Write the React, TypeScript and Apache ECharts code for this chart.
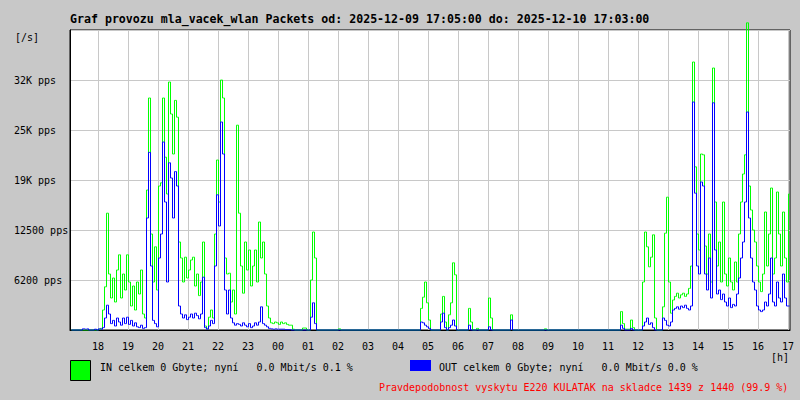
import React, { useEffect, useRef } from 'react';
import * as echarts from 'echarts';

const TITLE = 'Graf provozu mla_vacek_wlan Packets od: 2025-12-09 17:05:00 do: 2025-12-10 17:03:00';
const HOUR_LABELS = ['18', '19', '20', '21', '22', '23', '00', '01', '02', '03', '04', '05', '06', '07', '08', '09', '10', '11', '12', '13', '14', '15', '16', '17'];
const FIRST_HOUR_MIN = 56; // minutes from 17:04 (left edge) to 18:00
const TOTAL_MIN = 1440;
const STEP_MIN = 4; // one sample every 4 minutes
const Y_MAX = 37500;
const Y_STEP = 6250;
const Y_LABELS = ['', '6200 pps', '12500 pps', '19K pps', '25K pps', '32K pps', ''];
const IN_LEGEND = 'IN celkem 0 Gbyte; nyní   0.0 Mbit/s 0.1 %';
const OUT_LEGEND = 'OUT celkem 0 Gbyte; nyní   0.0 Mbit/s 0.0 %';
const NOTE = 'Pravdepodobnost vyskytu E220 KULATAK na skladce 1439 z 1440 (99.9 %)';

// IN packets per second, 4-minute samples from 17:04
const IN_VALUES = [
  0, 0, 0, 0, 0, 0, 0, 0, 0, 0,
  0, 0, 0, 0, 100, 200, 2500, 5400, 14600, 7000,
  4000, 6500, 3500, 7500, 9400, 4000, 7000, 5000, 9400, 6000,
  3000, 5500, 2500, 6000, 4500, 7500, 2000, 1500, 17500, 29000,
  12000, 6000, 10400, 5000, 18000, 18400, 29000, 21600, 17000, 31000,
  27000, 22000, 28700, 26600, 11000, 9000, 6000, 9100, 6500, 7500,
  8750, 9100, 5500, 7000, 4300, 6000, 11000, 500, 200, 1600,
  2500, 1500, 12000, 21250, 16000, 31250, 29000, 9000, 7000, 7100,
  3500, 5000, 2000, 25600, 14600, 8000, 4600, 11000, 7500, 10000,
  5500, 8000, 10000, 6000, 13500, 9000, 11000, 7000, 3000, 1500,
  900, 800, 1000, 900, 700, 1000, 800, 900, 700, 600,
  600, 100, 0, 0, 0, 0, 250, 250, 0, 0,
  6250, 12250, 9000, 0, 0, 0, 0, 0, 0, 0,
  0, 0, 0, 0, 150, 0, 0, 0, 0, 0,
  0, 0, 0, 0, 0, 0, 0, 0, 0, 0,
  0, 0, 0, 0, 0, 0, 0, 0, 0, 0,
  0, 0, 0, 0, 0, 0, 0, 0, 0, 0,
  0, 0, 0, 0, 0, 2700, 4100, 6000, 3400, 1250,
  0, 0, 0, 0, 0, 2000, 4200, 1000, 0, 1900,
  3400, 8400, 6900, 0, 0, 0, 0, 0, 0, 2700,
  1000, 0, 0, 200, 0, 0, 0, 0, 0, 4000,
  1500, 0, 0, 0, 0, 0, 0, 0, 0, 0,
  1900, 0, 0, 0, 0, 0, 0, 0, 0, 0,
  0, 0, 0, 0, 0, 0, 0, 150, 0, 0,
  0, 0, 0, 0, 0, 0, 0, 0, 0, 0,
  0, 0, 0, 0, 0, 0, 0, 0, 0, 0,
  0, 0, 0, 0, 0, 0, 0, 0, 0, 0,
  0, 0, 0, 0, 0, 2300, 800, 100, 100, 100,
  1250, 300, 0, 0, 0, 0, 6000, 12250, 10400, 7900,
  9100, 11900, 1500, 0, 0, 0, 2900, 12100, 16600, 6000,
  2100, 3750, 4200, 4600, 4000, 4400, 4600, 4200, 4500, 5200,
  8000, 33500, 20400, 12000, 10000, 22000, 21900, 10500, 7000, 12000,
  6000, 32750, 16000, 8000, 11000, 6000, 16000, 7000, 5500, 9000,
  6000, 5000, 8500, 6000, 12000, 16000, 19500, 21900, 38400, 18000,
  15000, 12500, 11000, 8000, 6000, 4800, 7000, 14750, 8000, 12000,
  17750, 7000, 9000, 17250, 12000, 8000, 14750, 9000, 6000, 17000,
];

// OUT packets per second, 4-minute samples from 17:04
const OUT_VALUES = [
  0, 0, 0, 0, 0, 0, 150, 100, 150, 0,
  0, 0, 100, 0, 150, 100, 300, 1500, 3100, 2000,
  800, 1200, 500, 1500, 1000, 600, 1500, 800, 1600, 700,
  1200, 500, 900, 400, 300, 600, 200, 300, 14000, 22200,
  8000, 1200, 800, 400, 9000, 12000, 23500, 16000, 6000, 20900,
  19000, 14000, 19800, 18000, 3000, 2000, 1500, 1900, 1300, 1600,
  2000, 1500, 2100, 1800, 1400, 2000, 6600, 300, 100, 500,
  1200, 800, 8000, 16900, 13000, 26000, 22000, 5000, 2000, 5000,
  1500, 900, 600, 800, 700, 500, 900, 600, 400, 800,
  300, 500, 900, 600, 1000, 2900, 800, 600, 400, 200,
  150, 100, 150, 100, 100, 100, 100, 50, 50, 50,
  0, 0, 0, 0, 0, 0, 0, 0, 0, 0,
  1600, 3400, 800, 0, 0, 0, 0, 0, 0, 0,
  0, 0, 0, 0, 0, 0, 0, 0, 0, 0,
  0, 0, 0, 0, 0, 0, 0, 0, 0, 0,
  0, 0, 0, 0, 0, 0, 0, 0, 0, 0,
  0, 0, 0, 0, 0, 0, 0, 0, 0, 0,
  0, 0, 0, 0, 0, 1000, 900, 600, 400, 200,
  0, 0, 0, 0, 0, 1000, 2100, 300, 0, 300,
  600, 1250, 500, 0, 0, 0, 0, 0, 0, 600,
  0, 0, 0, 0, 0, 0, 0, 0, 0, 400,
  0, 0, 0, 0, 0, 0, 0, 0, 0, 0,
  1250, 0, 0, 0, 0, 0, 0, 0, 0, 0,
  0, 0, 0, 0, 0, 0, 0, 0, 0, 0,
  0, 0, 0, 0, 0, 0, 0, 0, 0, 0,
  0, 0, 0, 0, 0, 0, 0, 0, 0, 0,
  0, 0, 0, 0, 0, 0, 0, 0, 0, 0,
  0, 0, 0, 0, 0, 600, 200, 0, 0, 0,
  200, 0, 0, 0, 0, 0, 500, 1000, 1500, 700,
  900, 300, 0, 0, 0, 0, 1500, 1200, 600, 500,
  1000, 2500, 2700, 2900, 2600, 3000, 2800, 3100, 2700, 2500,
  3000, 28500, 17100, 8000, 7000, 18500, 18000, 7000, 5000, 9000,
  4000, 28400, 10000, 4500, 5000, 3800, 4500, 3500, 3000, 4000,
  2800, 3200, 3000, 4500, 6500, 9000, 11000, 16000, 27250, 14000,
  9000, 6000, 5000, 3000, 2500, 2300, 2500, 3500, 3000, 4500,
  9000, 3500, 3000, 6000, 4000, 3500, 7000, 4000, 3000, 3000,
];

const MONO = '"DejaVu Sans Mono", "Liberation Mono", monospace';

export default function App() {
  const ref = useRef<HTMLDivElement>(null);

  useEffect(() => {
    if (!ref.current) return;
    const chart = echarts.init(ref.current, undefined, { renderer: 'svg' });

    const hourTicks = HOUR_LABELS.map((_, k) => FIRST_HOUR_MIN + 60 * k);
    const toPairs = (arr: number[]) => arr.map((v, i) => [i * STEP_MIN + 3, v]);
    const yTicks = Y_LABELS.map((_, k) => k * Y_STEP);

    const text = (t: string, x: number, y: number, fill = '#000', extra: any = {}) => ({
      type: 'text',
      x,
      y,
      silent: true,
      style: {
        text: t,
        fill,
        font: `10px ${MONO}`,
        verticalAlign: 'middle',
        align: 'left',
        ...extra,
      },
    });

    const lineSeries = (name: string, values: number[], color: string, z: number) => ({
      name,
      type: 'line',
      step: 'middle',
      data: toPairs(values),
      showSymbol: false,
      symbol: 'none',
      clip: false,
      lineStyle: { color, width: 1 },
      itemStyle: { color },
      silent: true,
      z,
    });

    const option: any = {
      animation: false,
      backgroundColor: '#c8c8c8',
      grid: {
        left: 70,
        top: 30,
        width: 720,
        height: 300,
        show: true,
        backgroundColor: '#ffffff',
        borderColor: '#000000',
        borderWidth: 1,
      },
      xAxis: {
        type: 'value',
        min: 0,
        max: TOTAL_MIN,
        axisLine: { show: true, onZero: false, lineStyle: { color: '#000', width: 1 } },
        axisTick: { show: false, customValues: hourTicks },
        axisLabel: {
          customValues: hourTicks,
          formatter: (v: number) => {
            const k = Math.round((v - FIRST_HOUR_MIN) / 60);
            return HOUR_LABELS[k] ?? '';
          },
          color: '#000',
          fontSize: 10,
          fontFamily: MONO,
          margin: 11,
        },
        splitLine: { show: true, lineStyle: { color: '#c8c8c8', width: 1 } },
      },
      yAxis: {
        type: 'value',
        min: 0,
        max: Y_MAX,
        interval: Y_STEP,
        axisLine: { show: true, lineStyle: { color: '#000', width: 1 } },
        axisTick: { show: false },
        axisLabel: {
          align: 'left',
          margin: 56,
          padding: [4, 0, 0, 0],
          formatter: (v: number) => {
            const k = yTicks.indexOf(v);
            return k >= 0 ? Y_LABELS[k] : '';
          },
          color: '#000',
          fontSize: 10,
          fontFamily: MONO,
        },
        splitLine: { show: true, lineStyle: { color: '#c8c8c8', width: 1 } },
      },
      series: [
        lineSeries('IN', IN_VALUES, '#00ff00', 2),
        lineSeries('OUT', OUT_VALUES, '#0000ff', 3),
      ],
      graphic: [
        text(TITLE, 70, 19, '#000', { font: `bold 11.6px ${MONO}` }),
        text('[/s]', 15, 37),
        text('[h]', 771, 357),
        {
          type: 'rect',
          silent: true,
          shape: { x: 70.5, y: 360.5, width: 20, height: 20 },
          style: { fill: '#00ff00', stroke: '#000', lineWidth: 1 },
        },
        text(IN_LEGEND, 100, 367),
        {
          type: 'rect',
          silent: true,
          shape: { x: 410, y: 360, width: 21, height: 11 },
          style: { fill: '#0000ff' },
        },
        text(OUT_LEGEND, 439, 367),
        text(NOTE, 379, 387, '#ff0000'),
      ],
    };

    chart.setOption(option);
    return () => chart.dispose();
  }, []);

  return (
    <div
      ref={ref}
      style={{ position: 'absolute', left: 0, top: 0, width: 800, height: 400 }}
    />
  );
}
